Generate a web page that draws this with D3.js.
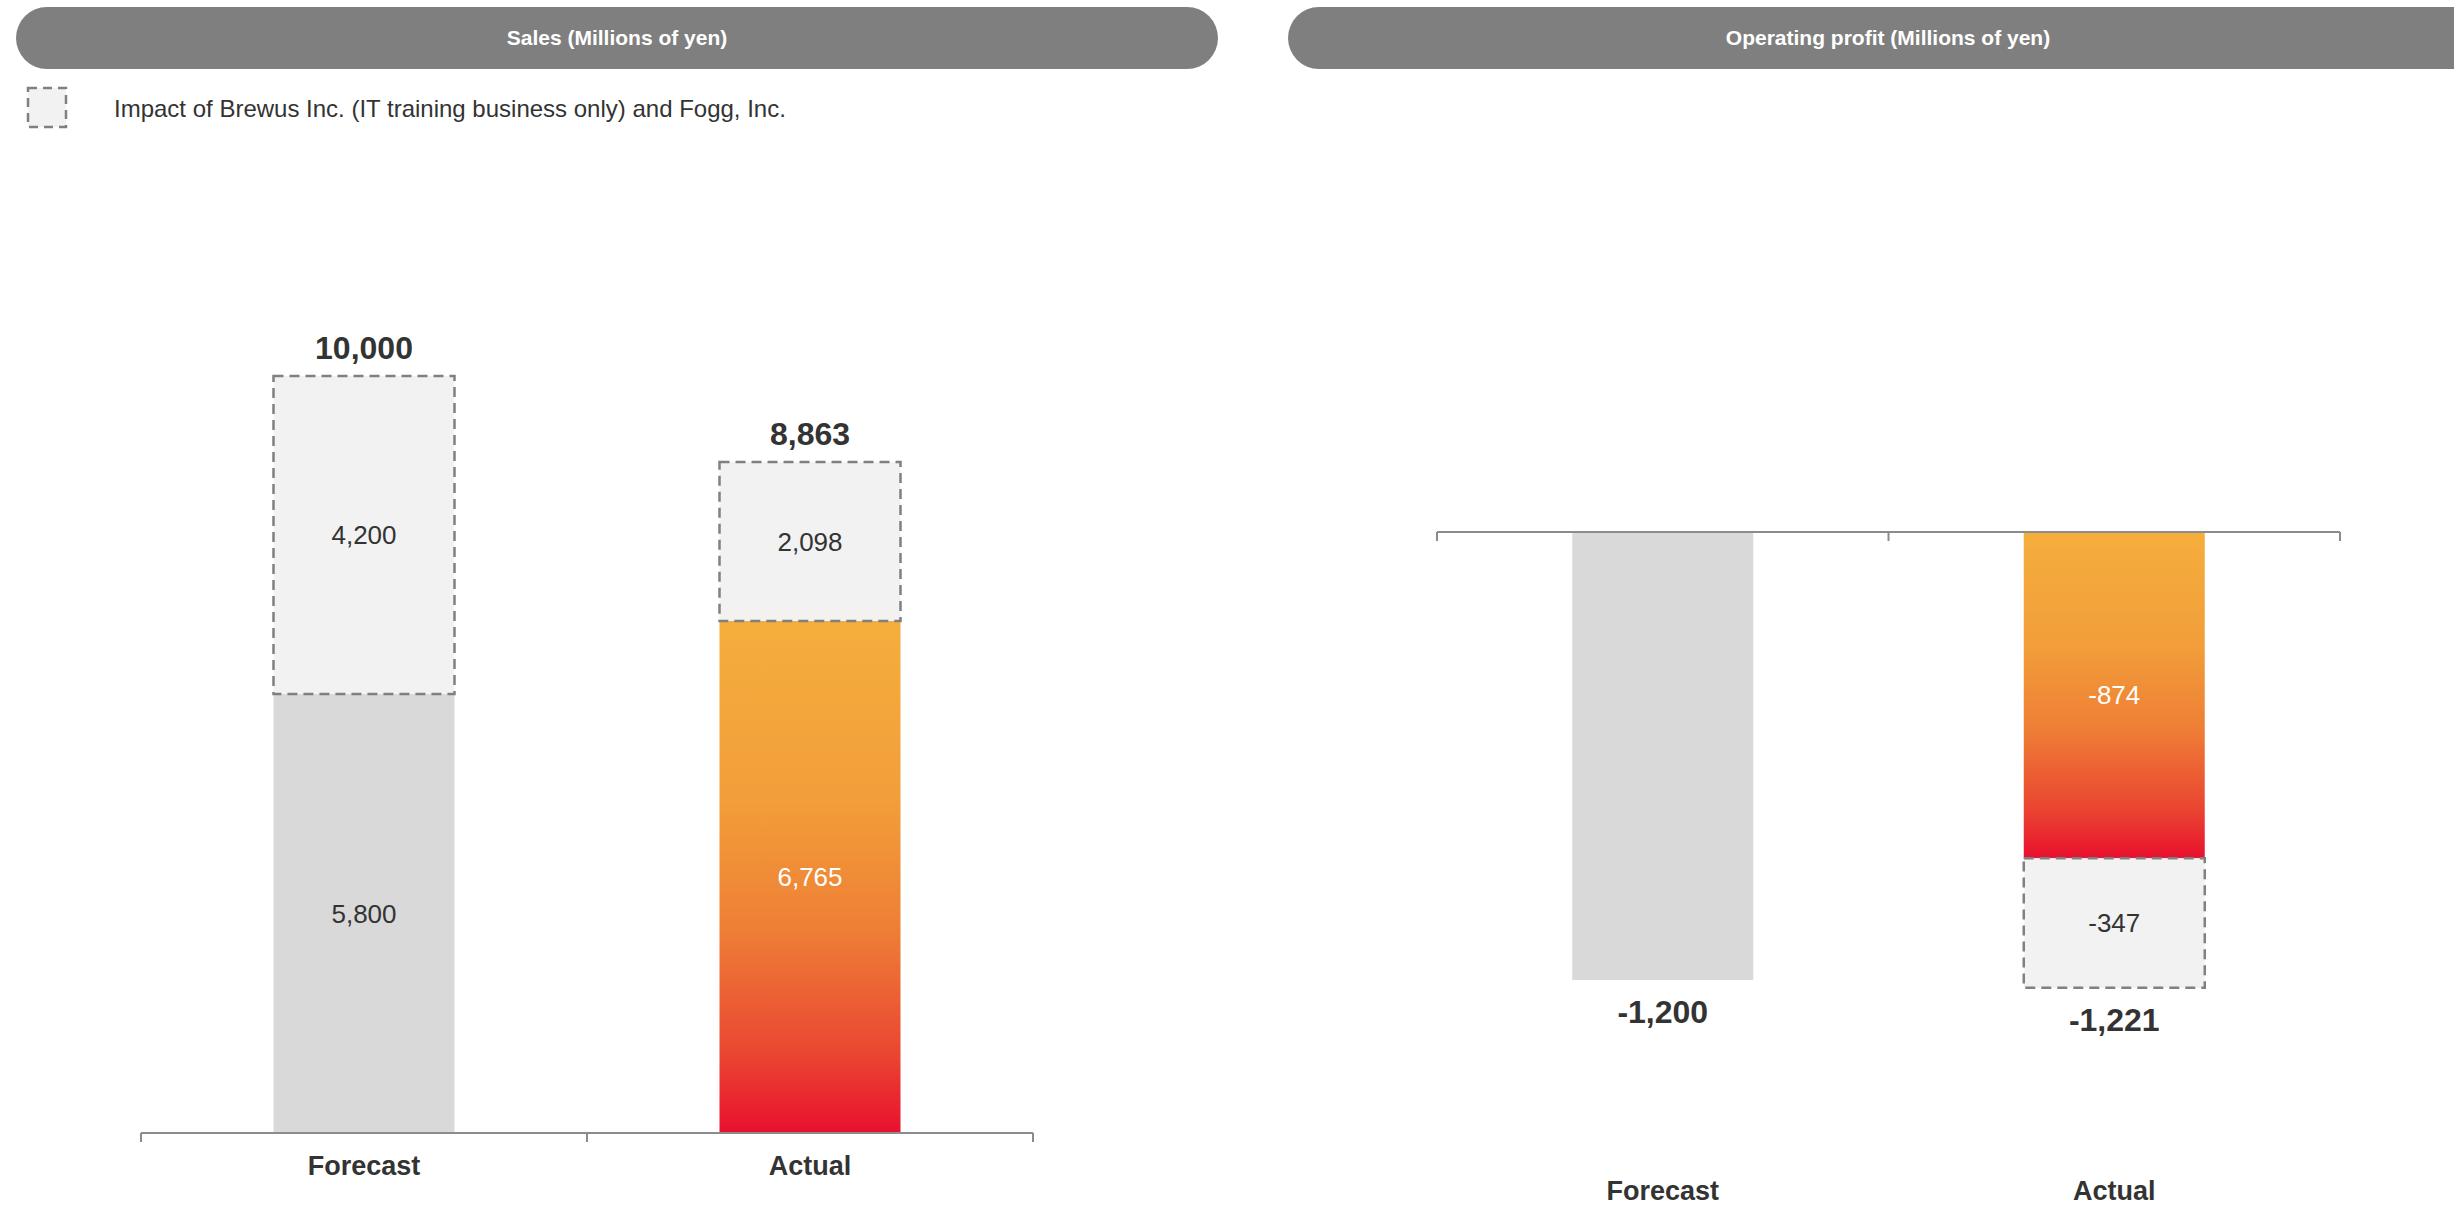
<!DOCTYPE html>
<html>
<head>
<meta charset="utf-8">
<script src="https://cdn.jsdelivr.net/npm/d3@7"></script>
<style>
  html, body { margin: 0; padding: 0; background: #ffffff; }
  svg { display: block; font-family: "Liberation Sans", Arial, sans-serif; }
</style>
</head>
<body>
<svg id="chart" width="2454" height="1212"></svg>
<script>
// ---- data ----
const categories = ["Forecast", "Actual"];
const salesBase = [5800, 6765];      // existing businesses
const salesImpact = [4200, 2098];    // Brewus Inc. (IT training) and Fogg, Inc.
const salesTotal = [10000, 8863];
const profitBase = [-1200, -874];
const profitImpact = [0, -347];
const profitTotal = [-1200, -1221];
const titles = ["Sales (Millions of yen)", "Operating profit (Millions of yen)"];
const legendLabel = "Impact of Brewus Inc. (IT training business only) and Fogg, Inc.";

// thousands separator with a plain hyphen for negatives
const fmt = d3.formatLocale({decimal: ".", thousands: ",", grouping: [3], currency: ["", ""], minus: "-"}).format(",");
const svg = d3.select("#chart");

const GREY = "#d9d9d9", IMPACT = "#f2f2f2", DASH = "#808080", TEXT = "#333333", AXIS = "#8c8c8c";

// vertical orange-to-red gradient for the actual bars
const defs = svg.append("defs");
const grad = defs.append("linearGradient").attr("id", "actualGrad")
  .attr("x1", 0).attr("y1", 0).attr("x2", 0).attr("y2", 1);
[[0, "#f5ae3c"], [0.35, "#f29e3a"], [0.6, "#ee7f36"], [0.85, "#ea4531"], [1, "#e8102e"]]
  .forEach(([o, c]) => grad.append("stop").attr("offset", o).attr("stop-color", c));

// ---- header pills ----
const pills = [{x0: 16, x1: 1218}, {x0: 1288, x1: 2520}];
pills.forEach((p, i) => {
  svg.append("rect").attr("x", p.x0).attr("y", 7).attr("width", p.x1 - p.x0).attr("height", 62)
    .attr("rx", 31).attr("ry", 31).attr("fill", "#7f7f7f");
  const cx = i === 0 ? (p.x0 + p.x1) / 2 : 1888;
  svg.append("text").attr("x", cx).attr("y", 38).attr("dy", "0.35em")
    .attr("text-anchor", "middle").attr("fill", "#ffffff")
    .attr("font-weight", "bold").attr("font-size", 21).text(titles[i]);
});

// ---- legend ----
svg.append("rect").attr("x", 28).attr("y", 88).attr("width", 38).attr("height", 39)
  .attr("fill", IMPACT).attr("stroke", DASH).attr("stroke-width", 2.5).attr("stroke-dasharray", "9,6");
svg.append("text").attr("x", 114).attr("y", 109).attr("dy", "0.35em")
  .attr("fill", TEXT).attr("font-size", 24).text(legendLabel);

// ---- shared drawing helpers ----
function drawAxis(g, x, y0, labelY) {
  const [r0, r1] = x.range();
  g.append("line").attr("x1", r0).attr("x2", r1).attr("y1", y0).attr("y2", y0)
    .attr("stroke", AXIS).attr("stroke-width", 2.2);
  const tickX = categories.map(c => x(c)).concat([r1]);
  g.selectAll(".tick").data(tickX).join("line")
    .attr("x1", d => d).attr("x2", d => d).attr("y1", y0).attr("y2", y0 + 9)
    .attr("stroke", AXIS).attr("stroke-width", 2);
  g.selectAll(".cat").data(categories).join("text")
    .attr("x", d => x(d) + x.bandwidth() / 2).attr("y", labelY)
    .attr("text-anchor", "middle").attr("fill", TEXT)
    .attr("font-weight", "bold").attr("font-size", 27).text(d => d);
}

function segment(g, xPos, w, yA, yB, fill, dashed, label, labelColor) {
  const top = Math.min(yA, yB), h = Math.abs(yB - yA);
  if (h <= 0) return;
  g.append("rect").attr("x", xPos).attr("y", top).attr("width", w).attr("height", h)
    .attr("fill", fill)
    .attr("stroke", dashed ? DASH : "none").attr("stroke-width", dashed ? 2.5 : 0)
    .attr("stroke-dasharray", dashed ? "10,6" : null);
  g.append("text").attr("x", xPos + w / 2).attr("y", top + h / 2).attr("dy", "0.35em")
    .attr("text-anchor", "middle").attr("fill", labelColor)
    .attr("font-size", 26).text(label);
}

// ---- Sales chart ----
const barW = 181;
const xS = d3.scaleBand().domain(categories).range([141, 1033]).padding(0);
const yS = d3.scaleLinear().domain([0, 10000]).range([1133, 376]);
const gS = svg.append("g");
categories.forEach((c, i) => {
  const bx = xS(c) + (xS.bandwidth() - barW) / 2;
  const baseFill = i === 0 ? GREY : "url(#actualGrad)";
  segment(gS, bx, barW, yS(0), yS(salesBase[i]), baseFill, false, fmt(salesBase[i]), i === 0 ? TEXT : "#ffffff");
  segment(gS, bx, barW, yS(salesBase[i]), yS(salesBase[i] + salesImpact[i]), IMPACT, true, fmt(salesImpact[i]), TEXT);
  gS.append("text").attr("x", bx + barW / 2).attr("y", yS(salesTotal[i]) - 17)
    .attr("text-anchor", "middle").attr("fill", TEXT).attr("font-weight", "bold")
    .attr("font-size", 32).text(fmt(salesTotal[i]));
});
drawAxis(gS, xS, yS(0), 1175);

// ---- Operating profit chart ----
const xP = d3.scaleBand().domain(categories).range([1437, 2340]).padding(0);
const yP = d3.scaleLinear().domain([-1200, 0]).range([980, 532]);
const gP = svg.append("g");
categories.forEach((c, i) => {
  const bx = xP(c) + (xP.bandwidth() - barW) / 2;
  const baseFill = i === 0 ? GREY : "url(#actualGrad)";
  const baseLabel = i === 0 ? "" : fmt(profitBase[i]);
  segment(gP, bx, barW, yP(0), yP(profitBase[i]), baseFill, false, baseLabel, "#ffffff");
  if (profitImpact[i] !== 0) {
    segment(gP, bx, barW, yP(profitBase[i]), yP(profitBase[i] + profitImpact[i]), IMPACT, true, fmt(profitImpact[i]), TEXT);
  }
  gP.append("text").attr("x", bx + barW / 2).attr("y", yP(profitTotal[i]) + 43)
    .attr("text-anchor", "middle").attr("fill", TEXT).attr("font-weight", "bold")
    .attr("font-size", 32).text(fmt(profitTotal[i]));
});
drawAxis(gP, xP, yP(0), 1200);
</script>
</body>
</html>
